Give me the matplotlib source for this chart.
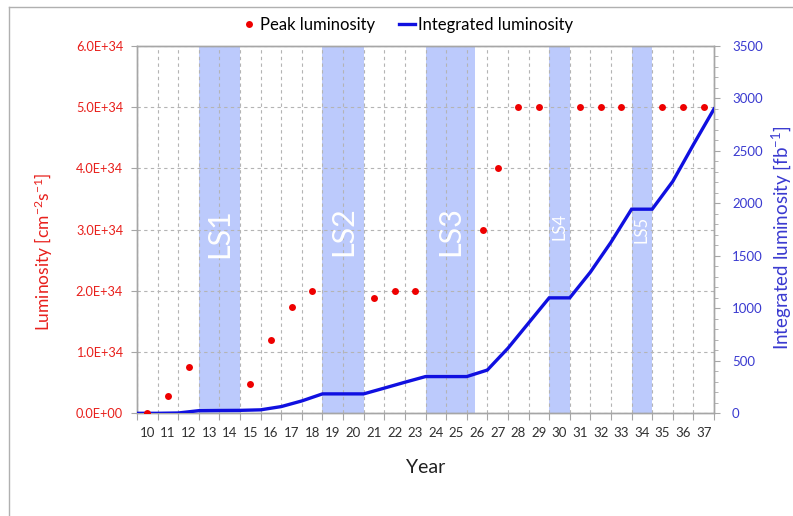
import matplotlib
matplotlib.use("Agg")
import matplotlib.pyplot as plt
import numpy as np
from matplotlib.lines import Line2D
from matplotlib.ticker import FixedLocator, FuncFormatter, MultipleLocator

plt.rcParams['font.family'] = ['Lato', 'DejaVu Sans']
plt.rcParams['mathtext.fontset'] = 'custom'
plt.rcParams['mathtext.rm'] = 'Lato'
plt.rcParams['mathtext.it'] = 'Lato'
plt.rcParams['mathtext.default'] = 'regular'

# ---------------- data ----------------
years = list(range(10, 38))
peak_years = [10, 11, 12, 15, 16, 17, 18, 21, 22, 23, 26.3, 27, 28, 29, 31, 32, 33, 35, 36, 37]
peak_lumi = [0.0, 0.28e34, 0.75e34, 0.48e34, 1.19e34, 1.73e34, 2.0e34, 1.89e34, 2.0e34, 2.0e34,
             3.0e34, 4.0e34, 5.0e34, 5.0e34, 5.0e34, 5.0e34, 5.0e34, 5.0e34, 5.0e34, 5.0e34]
# integrated luminosity at the end of each year (years 9..37)
int_end_years = list(range(9, 38))
int_lumi = [0, 0, 3, 25, 27, 28, 33, 64, 118, 185, 185, 185, 240, 296, 350, 350, 350, 412,
            620, 860, 1100, 1100, 1345, 1630, 1945, 1945, 2210, 2560, 2900]
shutdowns = ["LS1", "LS2", "LS3", "LS4", "LS5"]
ls_start = [12.5, 18.5, 23.5, 29.5, 33.5]
ls_end = [14.5, 20.5, 25.9, 30.5, 34.5]

RED = '#e8201c'
BLUE = '#1010e0'
TICKBLUE = '#3a3ad0'
GRID = '#b4b4b4'
SPINE = '#a6a6a6'
BAND = '#bccafc'

fig = plt.figure(figsize=(7.93, 5.16), dpi=100)
ax = fig.add_axes([137 / 793, 1 - 413.3 / 516, 577 / 793, 367.3 / 516])
ax2 = ax.twinx()

# frame of the chart area
fig.add_artist(Line2D([9 / 793, 9 / 793], [0, 1 - 7 / 516], color='#b0b0b0', lw=1.0))
fig.add_artist(Line2D([9 / 793, 1], [1 - 7 / 516, 1 - 7 / 516], color='#b0b0b0', lw=1.0))

# shutdown bands
for name, s, e in zip(shutdowns, ls_start, ls_end):
    ax.axvspan(s, e, color=BAND, zorder=0.5, lw=0)

# limits
ax.set_xlim(years[0] - 0.5, years[-1] + 0.5)
ax.set_ylim(0, 6e34)
ax2.set_ylim(0, 3500)

# x ticks: marks at boundaries, labels at centres
bounds = np.arange(years[0] - 0.5, years[-1] + 1.0, 1.0)
ax.xaxis.set_major_locator(FixedLocator(bounds))
ax.xaxis.set_major_formatter(FuncFormatter(lambda v, p: ''))
ax.xaxis.set_minor_locator(FixedLocator(years))
ax.xaxis.set_minor_formatter(FuncFormatter(lambda v, p: f'{int(round(v))}'))
ax.tick_params(axis='x', which='major', length=5, color=SPINE, direction='out')
ax.tick_params(axis='x', which='minor', length=0, labelsize=9.5, pad=10, labelcolor='#303030')

ax.yaxis.set_major_locator(MultipleLocator(1e34))
ax.yaxis.set_major_formatter(FuncFormatter(lambda v, p: f'{v:.1E}'))
ax.tick_params(axis='y', length=4, color=SPINE, labelsize=9.2, labelcolor=RED, pad=6)

ax2.yaxis.set_major_locator(MultipleLocator(500))
ax2.yaxis.set_minor_locator(MultipleLocator(100))
ax2.tick_params(axis='y', which='major', length=4, color=SPINE, labelsize=9.5,
                labelcolor=TICKBLUE, pad=9)
ax2.tick_params(axis='y', which='minor', length=3, color=SPINE)

# grid
ax.grid(True, which='major', axis='both', color=GRID, ls=(0, (3, 3)), lw=0.8, zorder=1)
ax.set_axisbelow(True)

for a in (ax, ax2):
    for sp in a.spines.values():
        sp.set_color(SPINE)
        sp.set_linewidth(1.0)

# LS labels
ls_sizes = [22, 22, 22, 12, 12]
ls_y = [2.95e34, 2.98e34, 2.98e34, 3.05e34, 3.0e34]
for name, s, e, fs, yy in zip(shutdowns, ls_start, ls_end, ls_sizes, ls_y):
    ax.text((s + e) / 2, yy, name, rotation=90, ha='center', va='center', color='white',
            fontsize=fs, zorder=2)

# integrated luminosity line (secondary axis)
line, = ax2.plot(np.array(int_end_years) + 0.5, int_lumi, color=BLUE, lw=2.4, zorder=3,
                 solid_joinstyle='miter', label='Integrated luminosity')
# peak luminosity dots drawn on top (primary axis scale)
dots, = ax2.plot(peak_years, peak_lumi, 'o', color='#ee0000', ms=5, mec='none', zorder=4,
                 transform=ax.transData, label='Peak luminosity')
ax.set_ylim(0, 6e34)
ax2.set_ylim(0, 3500)
ax.set_xlim(years[0] - 0.5, years[-1] + 0.5)

ax.set_ylabel('Luminosity [cm$^{-2}$s$^{-1}$]', color=RED, fontsize=12.5)
ax.yaxis.set_label_coords(-0.142, 0.44)
ax2.set_ylabel('Integrated luminosity [fb$^{-1}$]', color=TICKBLUE, fontsize=13.5)
ax2.yaxis.set_label_coords(1.095, 0.477)
ax.set_xlabel('Year', fontsize=14, color='#202020', labelpad=14)

fig.legend(handles=[dots, line], labels=['Peak luminosity', 'Integrated luminosity'],
           loc='center', bbox_to_anchor=(407 / 793, 1 - 25 / 516), ncol=2, frameon=False,
           fontsize=12, handlelength=1.0, handletextpad=0.15, columnspacing=1.4)

fig.savefig('out.png', dpi=100)
